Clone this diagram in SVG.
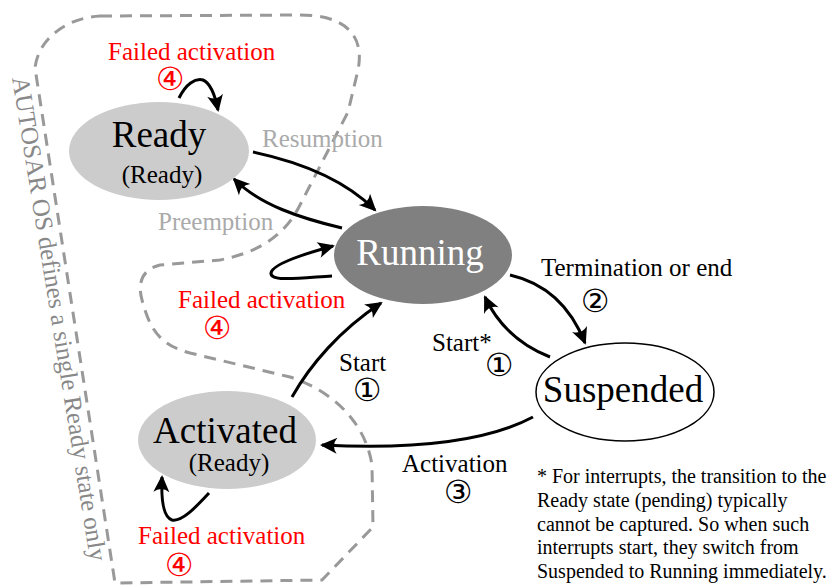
<svg xmlns="http://www.w3.org/2000/svg" width="829" height="586" viewBox="0 0 829 586">
<style>
text{font-family:"Liberation Serif","Times New Roman",serif;}
.big{font-size:37px;}
.sub{font-size:25px;}
.lbl{font-size:25px;fill:#000;}
.red{fill:#ff0000;}
.grey{fill:#aaaaaa;}
.num{font-family:"DejaVu Sans",sans-serif;font-size:32px;text-anchor:middle;}
.foot{font-size:20px;}
.edge{fill:none;stroke:#000;stroke-width:3;marker-end:url(#ah);}
</style>
<defs>
<marker id="ah" markerUnits="userSpaceOnUse" markerWidth="24" markerHeight="24" viewBox="-18 -12 24 24" refX="0" refY="0" orient="auto">
<path d="M2,0 L-15,-8 Q-9,0 -15,8 Z" fill="#000"/>
</marker>
</defs>
<rect width="829" height="586" fill="#fff"/>
<g id="boundary">
<path d="M100,16 L300,15 C345,15 365,35 358,70 L348,112 L300,205 C285,235 260,252 220,260 L160,265 C140,270 138,285 142,300 C150,330 160,345 190,353 L290,377 C330,390 365,420 372,465 L373,527 L322,580 L115,583 L35,68 C38,40 65,18 100,16 Z" fill="none" stroke="#999" stroke-width="3" stroke-dasharray="12 8"/>
<text transform="translate(12,78) rotate(80.8)" font-size="25" fill="#888">AUTOSAR OS defines a single Ready state only</text>
</g>
<g id="connectors">
<path class="edge" d="M179,98 C186,84 195,78 203,80 C210,83 215,95 218,110"/>
<path class="edge" d="M253,152 C300,162 345,180 375,210"/>
<path class="edge" d="M342,228 C300,218 260,205 234,179"/>
<path class="edge" d="M332,276 C300,278 270,282 271,273 C272,265 300,255 333,246"/>
<path class="edge" d="M510,275 C545,283 570,305 585,343"/>
<path class="edge" d="M550,357 C520,345 498,325 485,297"/>
<path class="edge" d="M292,397 C310,365 340,330 381,303"/>
<path class="edge" d="M533,417 C490,440 420,450 322,445"/>
<path class="edge" d="M209,493 C195,508 182,522 172,520 C163,517 161,500 162,477"/>
</g>
<g id="labels">
<text class="lbl red" x="108" y="60">Failed activation</text>
<text class="num red" x="170" y="90">④</text>
<text class="lbl grey" x="262" y="147">Resumption</text>
<text class="lbl grey" x="158" y="230">Preemption</text>
<text class="lbl red" x="178" y="308">Failed activation</text>
<text class="num red" x="217" y="339">④</text>
<text class="lbl" x="541" y="276">Termination or end</text>
<text class="num" x="595" y="312">②</text>
<text class="lbl" x="432" y="351">Start*</text>
<text class="num" x="499" y="376">①</text>
<text class="lbl" x="339" y="371">Start</text>
<text class="num" x="367" y="401">①</text>
<text class="lbl" x="402" y="472">Activation</text>
<text class="num" x="458" y="503">③</text>
<text class="lbl red" x="138" y="544">Failed activation</text>
<text class="num red" x="179" y="576">④</text>
</g>
<g id="ready">
<ellipse cx="159" cy="151" rx="90" ry="49" fill="#cccccc"/>
<text class="big" x="159" y="147" text-anchor="middle">Ready</text>
<text class="sub" x="162" y="183" text-anchor="middle">(Ready)</text>
</g>
<g id="running">
<ellipse cx="423" cy="255" rx="89" ry="49" fill="#808080"/>
<text class="big" x="420" y="265" text-anchor="middle" fill="#fff">Running</text>
</g>
<g id="suspended">
<ellipse cx="625" cy="392" rx="89" ry="49" fill="#fff" stroke="#000" stroke-width="1.5"/>
<text class="big" x="623" y="402" text-anchor="middle">Suspended</text>
</g>
<g id="activated">
<ellipse cx="227" cy="440" rx="89" ry="49" fill="#cccccc"/>
<text class="big" x="225" y="443" text-anchor="middle">Activated</text>
<text class="sub" x="229" y="471" text-anchor="middle">(Ready)</text>
</g>
<g id="footnote">
<text class="foot" x="537" y="483">* For interrupts, the transition to the</text>
<text class="foot" x="537" y="507">Ready state (pending) typically</text>
<text class="foot" x="537" y="531">cannot be captured. So when such</text>
<text class="foot" x="537" y="554">interrupts start, they switch from</text>
<text class="foot" x="537" y="578">Suspended to Running immediately.</text>
</g>
</svg>
